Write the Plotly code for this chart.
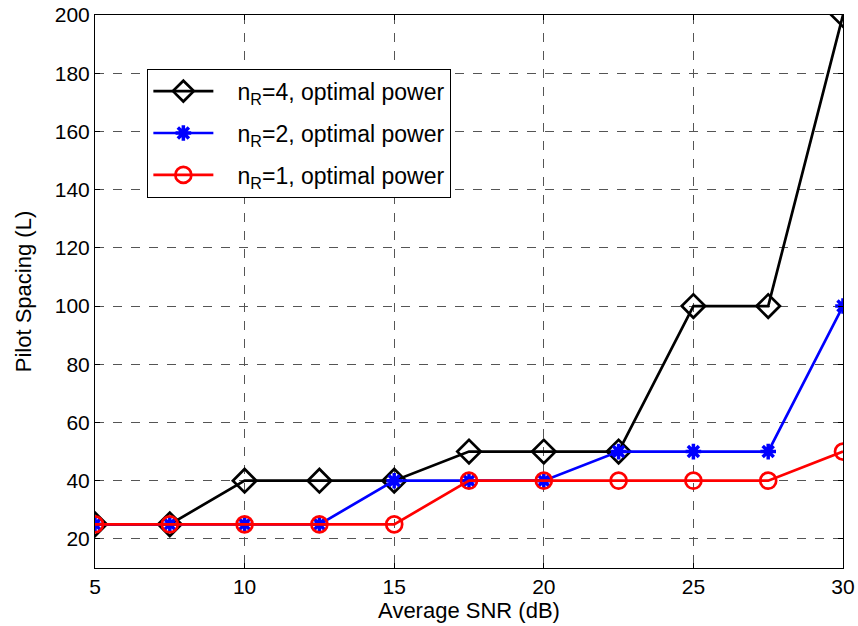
import plotly.graph_objects as go

snr = [5, 7.5, 10, 12.5, 15, 17.5, 20, 22.5, 25, 27.5, 30]
nr4 = [25, 25, 40, 40, 40, 50, 50, 50, 100, 100, 200]
nr2 = [25, 25, 25, 25, 40, 40, 40, 50, 50, 50, 100]
nr1 = [25, 25, 25, 25, 25, 40, 40, 40, 40, 40, 50]
names = ["n<sub>R</sub>=4, optimal power",
         "n<sub>R</sub>=2, optimal power",
         "n<sub>R</sub>=1, optimal power"]
FONT = "Liberation Sans, Arial, sans-serif"
PAD = "\u00a0\u00a0\u00a0"

fig = go.Figure()
fig.add_trace(go.Scatter(x=snr, y=nr4, name=PAD + names[0], mode="lines+markers", legendgroup="a",
                         line=dict(color="black", width=2.7),
                         marker=dict(symbol="diamond-open", size=18, color="black",
                                     line=dict(color="black", width=2.7))))
fig.add_trace(go.Scatter(x=snr, y=nr2, name=PAD + names[1], mode="lines+markers", legendgroup="b",
                         line=dict(color="#0000ff", width=2.7),
                         marker=dict(symbol="asterisk-open", size=13, color="#0000ff",
                                     line=dict(color="#0000ff", width=3.5))))
fig.add_trace(go.Scatter(x=snr, y=nr1, name=PAD + names[2], mode="lines+markers", legendgroup="c",
                         line=dict(color="#ff0000", width=2.7),
                         marker=dict(symbol="circle-open", size=16, color="#ff0000",
                                     line=dict(color="#ff0000", width=2.7))))

axis_common = dict(showline=True, linecolor="black", linewidth=1, mirror="allticks",
                   ticks="inside", ticklen=5, tickcolor="black", automargin=False,
                   showgrid=True, gridcolor="#555555", griddash="dash", gridwidth=1,
                   zeroline=False, tickfont=dict(family=FONT, size=21, color="black"))

fig.update_xaxes(range=[5, 30], tickvals=[5, 10, 15, 20, 25, 30],
                 title=dict(text="Average SNR (dB)", font=dict(family=FONT, size=22, color="black"), standoff=2),
                 **axis_common)
fig.update_yaxes(range=[10, 200], tickvals=list(range(20, 201, 20)),
                 title=dict(text="Pilot Spacing (L)", font=dict(family=FONT, size=22, color="black"), standoff=17),
                 **axis_common)

fig.update_layout(width=858, height=626, plot_bgcolor="white", paper_bgcolor="white",
                  margin=dict(l=95, r=15, t=15, b=58),
                  font=dict(family=FONT, color="black"),
                  legend=dict(x=0.07, y=0.903, xanchor="left", yanchor="top",
                              bgcolor="white", bordercolor="black", borderwidth=1,
                              font=dict(family=FONT, size=23, color="black"), tracegroupgap=9,
                              itemwidth=60))

fig.write_html("out.html")
